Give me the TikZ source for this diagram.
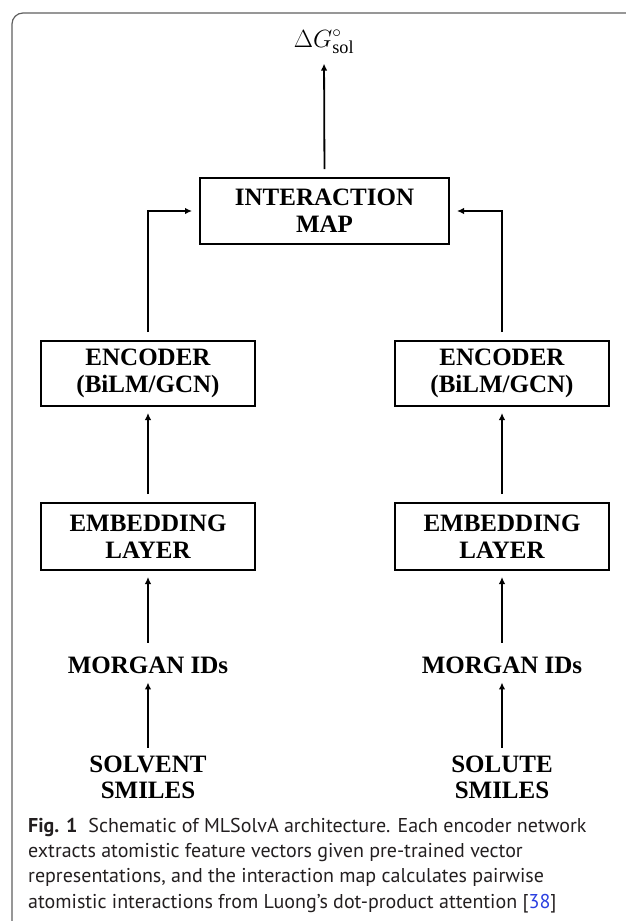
\documentclass[tikz,border=0pt]{standalone}
\usepackage{fontspec}
\setmainfont{Liberation Serif}
\newfontfamily\capfont{PT Sans}
\usetikzlibrary{arrows.meta}
\definecolor{framegray}{HTML}{5F5F5F}
\definecolor{linkblue}{HTML}{2B3FE0}
\definecolor{captext}{HTML}{231F20}
\begin{document}
\begin{tikzpicture}[x=1pt,y=-1pt,
  boxnode/.style={draw,line width=2pt,minimum width=214pt,minimum height=65pt,inner sep=0pt,align=center,font=\fontsize{25}{27}\selectfont\bfseries},
  lbl/.style={inner sep=0pt,align=center,font=\fontsize{25}{26}\selectfont\bfseries},
  arr/.style={line width=1.8pt,-{Latex[length=7pt,width=6.5pt]}},
  capline/.style={anchor=base west,inner sep=0pt,text=captext,font=\capfont\fontsize{20}{25}\selectfont}]
\useasboundingbox (0,0) rectangle (625,921);
\draw[framegray,line width=1.2pt,rounded corners=11pt] (626,13) -- (12,13) -- (12,922);

\node[inner sep=0pt,anchor=base,font=\fontsize{26}{28}\selectfont] (dg) at (324,47) {$\Delta G^{\circ}_{\mathrm{sol}}$};
\node[boxnode,minimum width=249pt,minimum height=66pt] (inter) at (324.5,211) {INTERACTION\\MAP};
\node[boxnode] (encL) at (148,373.5) {ENCODER\\(BiLM/GCN)};
\node[boxnode] (encR) at (502,373.5) {ENCODER\\(BiLM/GCN)};
\node[boxnode,minimum height=67pt] (embL) at (148,536.5) {EMBEDDING\\LAYER};
\node[boxnode,minimum height=67pt] (embR) at (502,536.5) {EMBEDDING\\LAYER};
\node[lbl,anchor=base] (morL) at (148,673) {MORGAN IDs};
\node[lbl,anchor=base] (morR) at (502,673) {MORGAN IDs};
\node[lbl] (solv) at (148,777.75) {SOLVENT\\SMILES};
\node[lbl] (solu) at (502,777.75) {SOLUTE\\SMILES};

\draw[arr,shorten <=8pt,shorten >=10pt] (inter.north) -- (dg.south);
\draw[arr,shorten <=8pt,shorten >=7pt] (encL.north) |- (inter.west);
\draw[arr,shorten <=8pt,shorten >=7pt] (encR.north) |- (inter.east);
\draw[arr,shorten <=8pt,shorten >=6pt] (embL.north) -- (encL.south);
\draw[arr,shorten <=8pt,shorten >=6pt] (embR.north) -- (encR.south);
\draw[arr,shorten <=13.5pt,shorten >=6pt] (morL.north) -- (embL.south);
\draw[arr,shorten <=13.5pt,shorten >=6pt] (morR.north) -- (embR.south);
\draw[arr,shorten <=8.5pt,shorten >=9pt] (solv.north) -- (morL.south);
\draw[arr,shorten <=8.5pt,shorten >=9pt] (solu.north) -- (morR.south);

\node[capline] (c1) at (28,832) {\textbf{Fig. 1}\hspace{0.55em}Schematic of MLSolvA architecture. Each encoder network};
\node[capline] (c2) at (28,857) {extracts atomistic feature vectors given pre-trained vector};
\node[capline] (c3) at (28,882) {representations, and the interaction map calculates pairwise};
\node[capline] (c4) at (28,908) {atomistic interactions from Luong’s dot-product attention [\textcolor{linkblue}{38}]};
\end{tikzpicture}
\end{document}
